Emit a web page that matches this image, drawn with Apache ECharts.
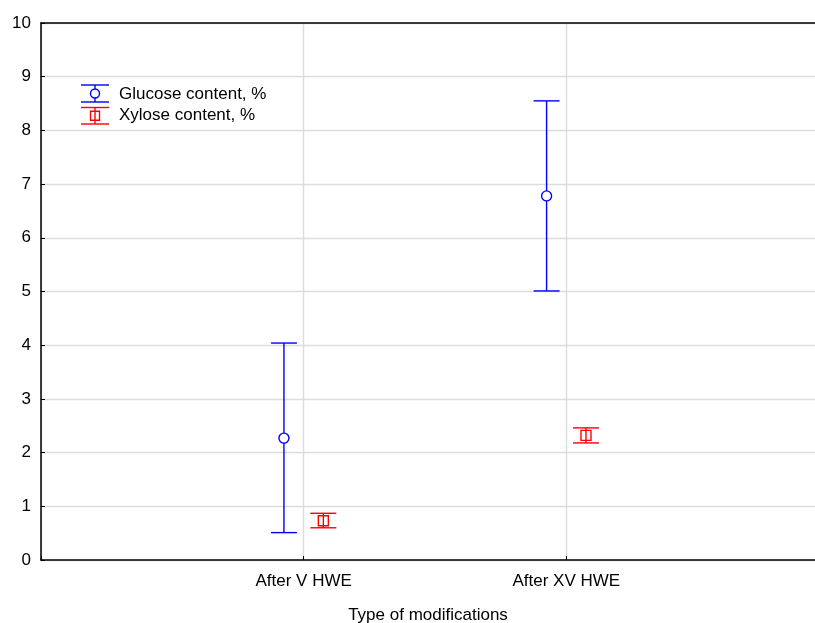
<!DOCTYPE html>
<html>
<head>
<meta charset="utf-8">
<script src="https://cdn.jsdelivr.net/npm/echarts@6/dist/echarts.min.js"></script>
<style>
  html, body { margin: 0; padding: 0; background: #fff; }
  #chart { width: 815px; height: 623px; }
</style>
</head>
<body>
<div id="chart"></div>
<script>
// categories and values
const categories = ['After V HWE', 'After XV HWE'];
const glucoseMean = [2.27, 6.78];
const glucoseLow = [0.51, 5.01];
const glucoseHigh = [4.04, 8.55];
const xyloseMean = [0.73, 2.32];
const xyloseLow = [0.60, 2.18];
const xyloseHigh = [0.87, 2.46];

const FONT = '"Liberation Sans", Arial, sans-serif';
const BLUE = '#0000ff';
const RED = '#ff0000';
const LW = 1.4;
// the plot runs past the right edge of the picture, so the x range stops short of 3
const X_MAX = 2.947;

// rows for the custom series: [x, low, high, mean], categories sit at 1, 2
function rows(mean, low, high, shift) {
	return mean.map((m, i) => [i + 1 + shift, low[i], high[i], m]);
}

// error bar: whiskers, caps and a hollow marker
function errorBar(marker) {
	return function(params, api) {
		const x = api.value(0);
		const lo = api.coord([x, api.value(1)]);
		const hi = api.coord([x, api.value(2)]);
		const mid = api.coord([x, api.value(3)]);
		const color = api.visual('color');
		const half = 13;
		const style = { stroke: color, lineWidth: LW, fill: null };
		const children = [
			{ type: 'line', shape: { x1: lo[0], y1: hi[1], x2: lo[0], y2: lo[1] }, style: style },
			{ type: 'line', shape: { x1: lo[0] - half, y1: hi[1], x2: lo[0] + half, y2: hi[1] }, style: style },
			{ type: 'line', shape: { x1: lo[0] - half, y1: lo[1], x2: lo[0] + half, y2: lo[1] }, style: style }
		];
		if (marker === 'circle') {
			children.push({ type: 'circle', shape: { cx: mid[0], cy: mid[1], r: 5 },
				style: { stroke: color, lineWidth: LW, fill: '#fff' } });
		} else {
			children.push({ type: 'rect', shape: { x: mid[0] - 5, y: mid[1] - 5, width: 10, height: 10 },
				style: { stroke: color, lineWidth: LW, fill: null } });
		}
		return { type: 'group', children: children };
	};
}

// legend drawn by hand, symbols like the whisker marks
function legendSymbol(cx, top, bottom, color, marker) {
	const style = { stroke: color, lineWidth: LW, fill: null };
	const mid = (top + bottom) / 2;
	const items = [
		{ type: 'line', shape: { x1: cx, y1: top, x2: cx, y2: bottom }, style: style },
		{ type: 'line', shape: { x1: cx - 14, y1: top, x2: cx + 14, y2: top }, style: style },
		{ type: 'line', shape: { x1: cx - 14, y1: bottom, x2: cx + 14, y2: bottom }, style: style }
	];
	if (marker === 'circle') {
		items.push({ type: 'circle', shape: { cx: cx, cy: mid, r: 4.5 }, style: { stroke: color, lineWidth: LW, fill: '#fff' } });
	} else {
		items.push({ type: 'rect', shape: { x: cx - 4.5, y: mid - 4.5, width: 9, height: 9 }, style: style });
	}
	return items;
}

const chart = echarts.init(document.getElementById('chart'));
const option = {
	animation: false,
	backgroundColor: '#fff',
	grid: { left: 41, top: 23, bottom: 63, right: 0, containLabel: false, outerBoundsMode: 'none' },
	xAxis: [{
		type: 'value',
		min: 0,
		max: X_MAX,
		interval: 1,
		name: 'Type of modifications',
		nameLocation: 'middle',
		nameGap: 47,
		nameTextStyle: { fontFamily: FONT, fontSize: 17, color: '#000' },
		axisLine: { lineStyle: { color: '#000', width: 1.5 } },
		axisTick: { show: true, inside: true, length: 4, lineStyle: { color: '#000' } },
		axisLabel: {
			margin: 13,
			fontFamily: FONT, fontSize: 17, color: '#000',
			showMaxLabel: false,
			formatter: v => categories[v - 1] || ''
		},
		splitLine: { show: true, showMaxLine: false, lineStyle: { color: '#dcdcdc', width: 1.4 } }
	}, {
		type: 'value',
		position: 'top',
		min: 0,
		max: X_MAX,
		interval: 1,
		axisLine: { show: true, lineStyle: { color: '#000', width: 1.5 } },
		axisTick: { show: false },
		axisLabel: { show: false },
		splitLine: { show: false }
	}],
	yAxis: {
		type: 'value',
		min: 0,
		max: 10,
		interval: 1,
		axisLine: { show: true, lineStyle: { color: '#000', width: 1.5 } },
		axisTick: { show: true, inside: true, length: 4, lineStyle: { color: '#000' } },
		axisLabel: { margin: 10, fontFamily: FONT, fontSize: 17, color: '#000' },
		splitLine: { show: true, lineStyle: { color: '#dcdcdc', width: 1.4 } }
	},
	graphic: [
		...legendSymbol(95, 85, 102, BLUE, 'circle'),
		...legendSymbol(95, 107.5, 124, RED, 'rect'),
		{ type: 'text', left: 119, top: 86, style: { text: 'Glucose content, %', fontFamily: FONT, fontSize: 17, fill: '#000' } },
		{ type: 'text', left: 119, top: 107, style: { text: 'Xylose content, %', fontFamily: FONT, fontSize: 17, fill: '#000' } }
	],
	series: [{
		name: 'Glucose content, %',
		type: 'custom',
		renderItem: errorBar('circle'),
		itemStyle: { color: BLUE },
		encode: { x: 0, y: [1, 2, 3] },
		data: rows(glucoseMean, glucoseLow, glucoseHigh, -0.075),
		z: 5
	}, {
		name: 'Xylose content, %',
		type: 'custom',
		renderItem: errorBar('rect'),
		itemStyle: { color: RED },
		encode: { x: 0, y: [1, 2, 3] },
		data: rows(xyloseMean, xyloseLow, xyloseHigh, 0.075),
		z: 5
	}]
};
chart.setOption(option);
</script>
</body>
</html>
